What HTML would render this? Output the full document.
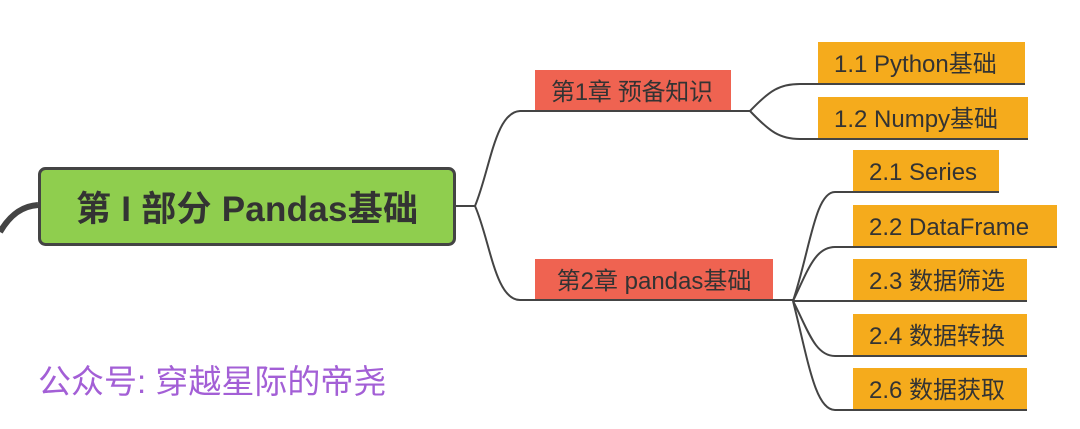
<!DOCTYPE html>
<html><head><meta charset="utf-8"><style>
html,body{margin:0;padding:0;background:#fff;width:1080px;height:429px;overflow:hidden}
text{font-family:"Liberation Sans","Noto Sans CJK SC",sans-serif;fill:#333}
</style></head><body>
<svg width="1080" height="429" viewBox="0 0 1080 429" xmlns="http://www.w3.org/2000/svg">
<g fill="none" stroke="#444" stroke-width="2">
<path d="M0,232 C10,215 22,206 38,205" stroke-width="6"/>
<path d="M455,206 H475"/>
<path d="M475,206 C490,170 495,112 520,111 H750"/>
<path d="M475,206 C490,240 495,300 520,300 H793"/>
<path d="M750,111 C770,90 780,84 800,84 H1025"/>
<path d="M750,111 C770,132 780,139 800,139 H1028"/>
<path d="M793,301 C810,250 815,192 835,192 H999"/>
<path d="M793,301 C808,270 815,247 835,247 H1057"/>
<path d="M793,301 H1027"/>
<path d="M793,301 C808,330 815,356 835,356 H1027"/>
<path d="M793,301 C808,360 815,410 835,410 H1027"/>
</g>
<rect x="39.5" y="168.5" width="415" height="76" rx="6" fill="#8fce4e" stroke="#444" stroke-width="3"/>
<text x="247" y="221" text-anchor="middle" font-size="35" font-weight="bold" textLength="342">第 I 部分 Pandas基础</text>
<rect x="535" y="70" width="196" height="40" fill="#ef6351"/>
<text x="632" y="100" text-anchor="middle" font-size="24" textLength="162">第1章 预备知识</text>
<rect x="535" y="259" width="238" height="40" fill="#ef6351"/>
<text x="654" y="289" text-anchor="middle" font-size="24">第2章 pandas基础</text>
<g fill="#f5ab1c">
<rect x="818" y="42" width="207" height="41"/>
<rect x="818" y="97" width="210" height="41"/>
<rect x="853" y="150" width="146" height="41"/>
<rect x="853" y="205" width="204" height="41"/>
<rect x="853" y="259" width="174" height="41"/>
<rect x="853" y="314" width="174" height="41"/>
<rect x="853" y="368" width="174" height="41"/>
</g>
<g font-size="24">
<text x="834" y="72">1.1 Python基础</text>
<text x="834" y="127">1.2 Numpy基础</text>
<text x="869" y="180">2.1 Series</text>
<text x="869" y="235">2.2 DataFrame</text>
<text x="869" y="289">2.3 数据筛选</text>
<text x="869" y="344">2.4 数据转换</text>
<text x="869" y="398">2.6 数据获取</text>
</g>
<text x="38" y="393" font-size="33" style="fill:#a35fd6">公众号: 穿越星际的帝尧</text>
</svg>
</body></html>
